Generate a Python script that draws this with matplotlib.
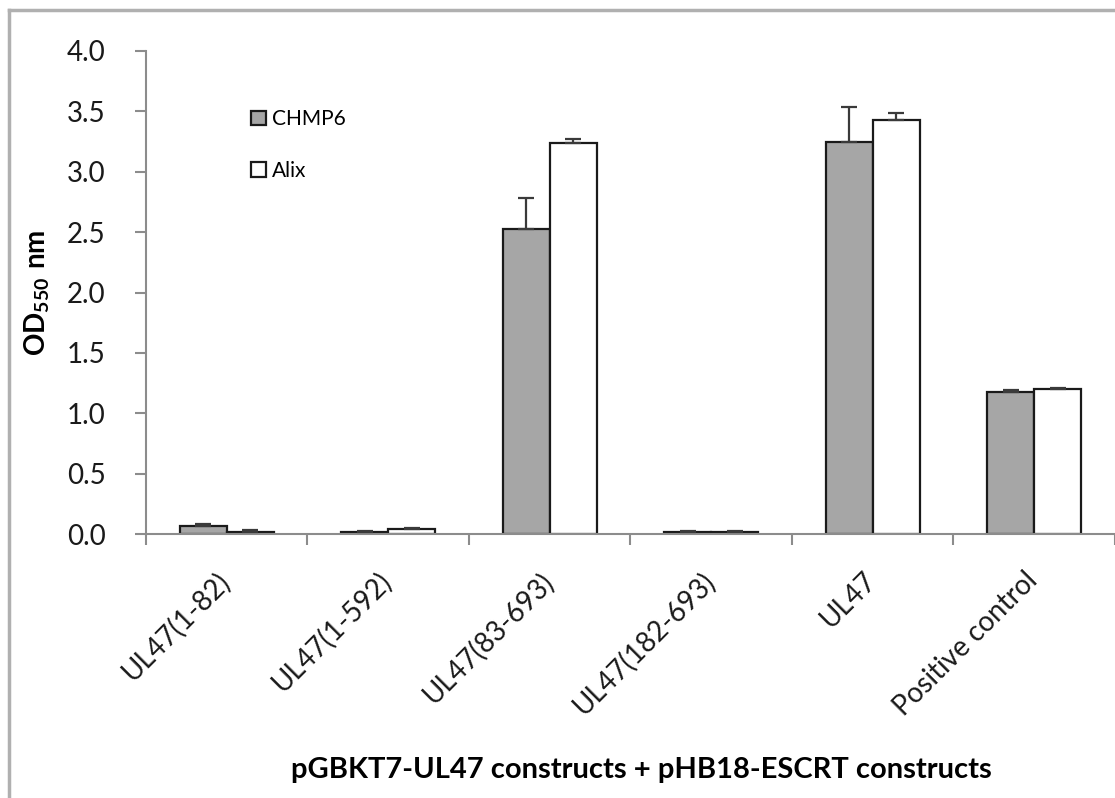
import numpy as np
import matplotlib
matplotlib.use('Agg')
import matplotlib.pyplot as plt
import matplotlib.transforms as mtransforms
from matplotlib.lines import Line2D

# Data: OD550 readings for each UL47 construct against the two ESCRT baits
constructs = ['UL47(1-82)', 'UL47(1-592)', 'UL47(83-693)', 'UL47(182-693)', 'UL47', 'Positive control']
chmp6 = [0.07, 0.02, 2.53, 0.02, 3.25, 1.18]
chmp6_err = [0.01, 0.005, 0.25, 0.005, 0.29, 0.01]
alix = [0.02, 0.04, 3.24, 0.02, 3.43, 1.20]
alix_err = [0.01, 0.01, 0.03, 0.005, 0.06, 0.01]

plt.rcParams['font.family'] = ['Lato', 'DejaVu Sans']
plt.rcParams['mathtext.fontset'] = 'custom'
plt.rcParams['mathtext.rm'] = 'Lato'
plt.rcParams['mathtext.bf'] = 'Lato:bold'

fig = plt.figure(figsize=(11.15, 7.98), dpi=100)
ax = fig.add_axes([0.1309, 0.3308, 0.8691, 0.6053])

x = np.arange(len(constructs)) + 0.5
w = 0.29

ax.bar(x - w / 2, chmp6, w, color='#a6a6a6', edgecolor='#1a1a1a', linewidth=1.6, label='CHMP6', zorder=2)
ax.bar(x + w / 2, alix, w, color='white', edgecolor='#1a1a1a', linewidth=1.6, label='Alix', zorder=2)

# upward-only error bars
ax.errorbar(x - w / 2, chmp6, yerr=[np.zeros(len(chmp6)), chmp6_err], fmt='none',
            ecolor='#3a3a3a', elinewidth=1.6, capsize=6, capthick=1.6, zorder=3)
ax.errorbar(x + w / 2, alix, yerr=[np.zeros(len(alix)), alix_err], fmt='none',
            ecolor='#3a3a3a', elinewidth=1.6, capsize=6, capthick=1.6, zorder=3)

ax.set_xlim(0, 6)
ax.set_ylim(0, 4.0)
yt = np.arange(0, 4.01, 0.5)
ax.set_yticks(yt)
ax.set_yticklabels(['%.1f' % v for v in yt], fontsize=20, color='#1a1a1a')
ax.set_xticks(np.arange(0, 7))
ax.set_xticklabels([])
ax.set_xticks(x, minor=True)
ax.set_xticklabels(constructs, minor=True, rotation=45, ha='right', va='top',
                   rotation_mode='anchor', fontsize=20, color='#1a1a1a')
ax.tick_params(axis='x', which='minor', length=0, pad=24)
ax.tick_params(axis='x', which='major', length=8, width=1.5, color='#8c8c8c', direction='out')
ax.tick_params(axis='y', length=8, width=1.5, color='#8c8c8c', direction='out', pad=21)

# nudge the rotated category labels slightly to the left
shift = mtransforms.ScaledTranslation(-10 / 100, 0, fig.dpi_scale_trans)
for lbl in ax.get_xticklabels(minor=True):
    lbl.set_transform(lbl.get_transform() + shift)

for s in ['top', 'right']:
    ax.spines[s].set_visible(False)
for s in ['left', 'bottom']:
    ax.spines[s].set_color('#8c8c8c')
    ax.spines[s].set_linewidth(1.5)

ax.set_ylabel(r'$\mathbf{OD_{550}\ nm}$', fontsize=20)
ax.yaxis.set_label_coords(-0.097, 0.5)
fig.text(0.575, 0.035, 'pGBKT7-UL47 constructs + pHB18-ESCRT constructs',
         ha='center', va='center', fontsize=21, fontweight='bold')

leg = ax.legend(loc='upper left', bbox_to_anchor=(0.089, 0.918), frameon=False,
                fontsize=15, handlelength=0.7, handleheight=0.7, handletextpad=0.3,
                labelspacing=1.5)

# outer frame around the figure
fig.add_artist(Line2D([0.0085, 0.0085], [0.0, 0.9875], color='#b0b0b0', lw=2.5, transform=fig.transFigure))
fig.add_artist(Line2D([0.0085, 1.0], [0.9875, 0.9875], color='#b0b0b0', lw=2.5, transform=fig.transFigure))

fig.savefig('out.png', dpi=100)
